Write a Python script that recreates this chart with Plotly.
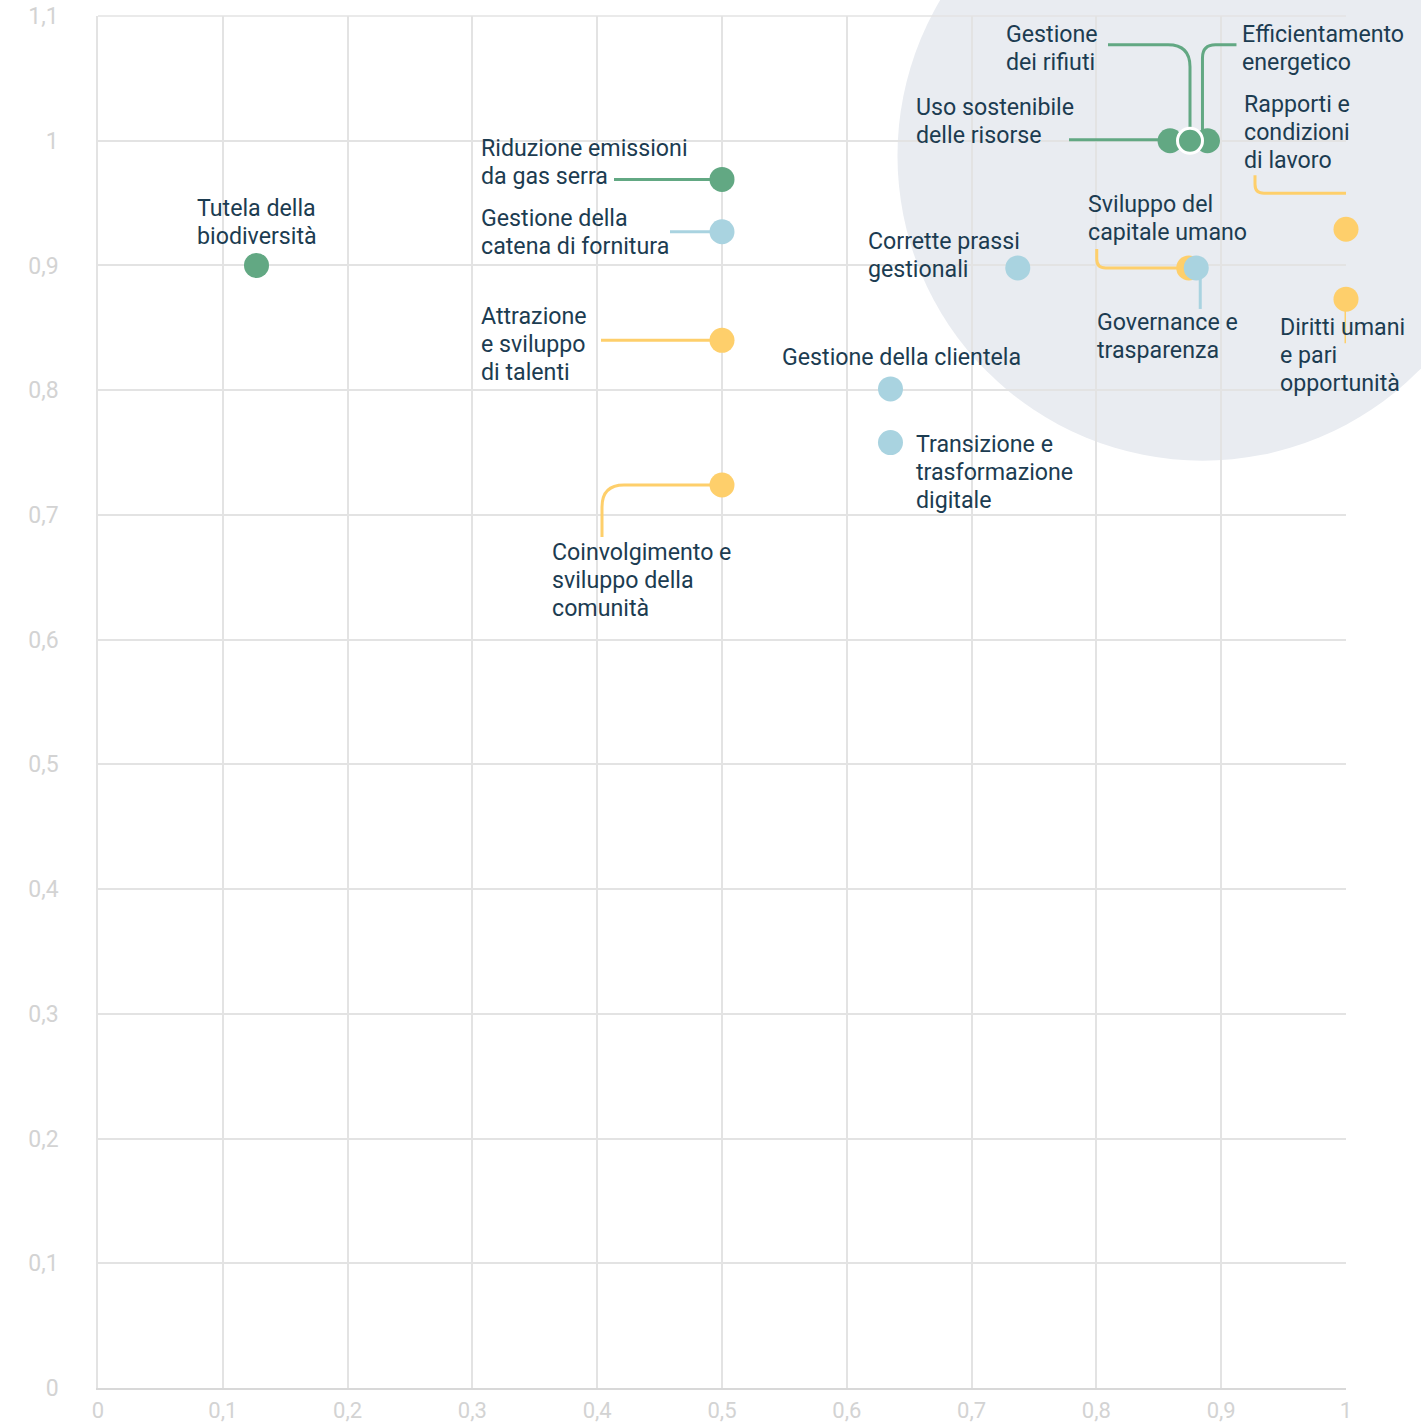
import plotly.graph_objects as go

# ---------------- data ----------------
topics = [
    "Tutela della biodiversità",
    "Riduzione emissioni da gas serra",
    "Gestione della catena di fornitura",
    "Attrazione e sviluppo di talenti",
    "Coinvolgimento e sviluppo della comunità",
    "Gestione della clientela",
    "Transizione e trasformazione digitale",
    "Corrette prassi gestionali",
    "Sviluppo del capitale umano",
    "Governance e trasparenza",
    "Rapporti e condizioni di lavoro",
    "Diritti umani e pari opportunità",
    "Uso sostenibile delle risorse",
    "Efficientamento energetico",
    "Gestione dei rifiuti",
]
x_values = [0.127, 0.5, 0.5, 0.5, 0.5, 0.635, 0.635, 0.737, 0.874, 0.880, 1.0, 1.0, 0.859, 0.889, 0.875]
y_values = [0.900, 0.969, 0.927, 0.840, 0.724, 0.801, 0.758, 0.898, 0.898, 0.898, 0.929, 0.873, 1.0, 1.0, 1.0]
groups = ["amb", "amb", "gov", "soc", "soc", "gov", "gov", "gov", "soc", "gov", "soc", "soc", "amb", "amb", "amb"]

label_lines = [
    ["Tutela della", "biodiversità"],
    ["Riduzione emissioni", "da gas serra"],
    ["Gestione della", "catena di fornitura"],
    ["Attrazione", "e sviluppo", "di talenti"],
    ["Coinvolgimento e", "sviluppo della", "comunità"],
    ["Gestione della clientela"],
    ["Transizione e", "trasformazione", "digitale"],
    ["Corrette prassi", "gestionali"],
    ["Sviluppo del", "capitale umano"],
    ["Governance e", "trasparenza"],
    ["Rapporti e", "condizioni", "di lavoro"],
    ["Diritti umani", "e pari", "opportunità"],
    ["Uso sostenibile", "delle risorse"],
    ["Efficientamento", "energetico"],
    ["Gestione", "dei rifiuti"],
]

x_tick_vals = [0, 0.1, 0.2, 0.3, 0.4, 0.5, 0.6, 0.7, 0.8, 0.9, 1]
x_tick_text = ["0", "0,1", "0,2", "0,3", "0,4", "0,5", "0,6", "0,7", "0,8", "0,9", "1"]
y_tick_vals = [0, 0.1, 0.2, 0.3, 0.4, 0.5, 0.6, 0.7, 0.8, 0.9, 1, 1.1]
y_tick_text = ["0", "0,1", "0,2", "0,3", "0,4", "0,5", "0,6", "0,7", "0,8", "0,9", "1", "1,1"]

# ---------------- styles / layout ----------------
W, H = 1421, 1426
M_L, M_R, M_T, M_B = 98, 75, 16, 38
X_RANGE = [0, 1]
Y_RANGE = [0, 1.1000001]
PW = W - M_L - M_R
PH = H - M_T - M_B
PX_X = PW / (X_RANGE[1] - X_RANGE[0])
PX_Y = PH / (Y_RANGE[1] - Y_RANGE[0])

colors = {"amb": "#62a883", "soc": "#fecf6b", "gov": "#a9d3e0"}
TEXT_COLOR = "#1c3c51"
GRID_COLOR = "#e3e3e3"
TICK_COLOR = "#d3d3d3"
FONT = "Roboto"
LABEL_SIZE = 23.2
LINE_STEP = 28

# label placement: pixel offsets of the text block (left edge / centre) from its dot
label_pos = {
    "Tutela della biodiversità": (0, 43, "center"),
    "Riduzione emissioni da gas serra": (-243, 17, "left"),
    "Gestione della catena di fornitura": (-243, 0, "left"),
    "Attrazione e sviluppo di talenti": (-243, -4, "left"),
    "Coinvolgimento e sviluppo della comunità": (-172, -95, "left"),
    "Gestione della clientela": (-110, 32, "left"),
    "Transizione e trasformazione digitale": (24, -29, "left"),
    "Corrette prassi gestionali": (-152, 13, "left"),
    "Sviluppo del capitale umano": (-103, 50, "left"),
    "Governance e trasparenza": (-101, -68, "left"),
    "Rapporti e condizioni di lavoro": (-104, 97, "left"),
    "Diritti umani e pari opportunità": (-68, -56, "left"),
    "Uso sostenibile delle risorse": (-256, 20, "left"),
    "Efficientamento energetico": (33, 93, "left"),
    "Gestione dei rifiuti": (-186, 93, "left"),
}

# leader lines: pixel waypoints relative to the dot (y down), corner radius
leaders = {
    "Riduzione emissioni da gas serra": ([(-108, 0), (0, 0)], 0),
    "Gestione della catena di fornitura": ([(-52, 0), (0, 0)], 0),
    "Attrazione e sviluppo di talenti": ([(-121, 0), (0, 0)], 0),
    "Coinvolgimento e sviluppo della comunità": ([(0, 0), (-120, 0), (-120, 52)], 22),
    "Uso sostenibile delle risorse": ([(-101, -1), (0, -1)], 0),
    "Gestione dei rifiuti": ([(-82, -96), (0, -96), (0, 0)], 22),
    "Efficientamento energetico": ([(29, -96), (-5, -96), (-5, 0)], 13),
    "Sviluppo del capitale umano": ([(-92, -19), (-92, 0), (0, 0)], 9),
    "Governance e trasparenza": ([(4, 0), (4, 41)], 0),
    "Rapporti e condizioni di lavoro": ([(-91, -54), (-91, -36), (1, -36)], 9),
    "Diritti umani e pari opportunità": ([(0, 0), (0, 44)], 0),
}

# highlight circle (centre in data units, radius in px)
CIRCLE_CENTER = (0.885, 0.988)
CIRCLE_R_PX = 305
CIRCLE_COLOR = "#e9ecf1"


def to_data(x, y, dx, dy):
    return x + dx / PX_X, y - dy / PX_Y


def leader_path(x, y, pts, r):
    P = [to_data(x, y, dx, dy) for dx, dy in pts]
    if r == 0 or len(pts) < 3:
        return "M " + " L ".join(f"{a},{b}" for a, b in P)
    out = [f"M {P[0][0]},{P[0][1]}"]
    for i in range(1, len(pts) - 1):
        (ax, ay), (bx, by), (cx, cy) = pts[i - 1], pts[i], pts[i + 1]

        def unit(px, py, qx, qy):
            d = ((qx - px) ** 2 + (qy - py) ** 2) ** 0.5
            return (qx - px) / d, (qy - py) / d

        u1 = unit(bx, by, ax, ay)
        u2 = unit(bx, by, cx, cy)
        s = to_data(x, y, bx + u1[0] * r, by + u1[1] * r)
        e = to_data(x, y, bx + u2[0] * r, by + u2[1] * r)
        out.append(f"L {s[0]},{s[1]}")
        out.append(f"Q {P[i][0]},{P[i][1]} {e[0]},{e[1]}")
    out.append(f"L {P[-1][0]},{P[-1][1]}")
    return " ".join(out)


fig = go.Figure()

fig.add_trace(go.Scatter(
    x=x_values, y=y_values, mode="markers",
    marker=dict(
        size=25,
        color=[colors[g] for g in groups],
        line=dict(
            color="white",
            width=[3 if t == "Gestione dei rifiuti" else 0 for t in topics],
        ),
        opacity=1,
    ),
    cliponaxis=False,
    hoverinfo="text", text=topics,
    showlegend=False,
))

shapes = []
# background circle in paper coordinates
cxp = (CIRCLE_CENTER[0] - X_RANGE[0]) / (X_RANGE[1] - X_RANGE[0])
cyp = (CIRCLE_CENTER[1] - Y_RANGE[0]) / (Y_RANGE[1] - Y_RANGE[0])
rxp = CIRCLE_R_PX / PW
ryp = CIRCLE_R_PX / PH
shapes.append(dict(type="circle", xref="paper", yref="paper",
                   x0=cxp - rxp, x1=cxp + rxp, y0=cyp - ryp, y1=cyp + ryp,
                   fillcolor=CIRCLE_COLOR, line=dict(width=0), layer="below"))
# top border of the plot frame
shapes.append(dict(type="line", xref="paper", yref="paper", x0=0, x1=1, y0=1, y1=1,
                   line=dict(color=GRID_COLOR, width=1.5), layer="between"))

for t, x, y, g in zip(topics, x_values, y_values, groups):
    if t in leaders:
        pts, r = leaders[t]
        shapes.append(dict(type="path", xref="x", yref="y",
                           path=leader_path(x, y, pts, r),
                           line=dict(color=colors[g], width=3),
                           layer="between"))

annotations = []
for t, lines, x, y in zip(topics, label_lines, x_values, y_values):
    xs, ys, xa = label_pos[t]
    n = len(lines)
    for i, line in enumerate(lines):
        annotations.append(dict(
            x=x, y=y, xref="x", yref="y", text=line, showarrow=False,
            xshift=xs, yshift=ys - (i - (n - 1) / 2) * LINE_STEP,
            xanchor=xa, yanchor="middle",
            align="center" if xa == "center" else "left",
            font=dict(family=FONT, size=LABEL_SIZE, color=TEXT_COLOR),
        ))

fig.update_layout(
    template="none",
    width=W, height=H,
    margin=dict(l=M_L, r=M_R, t=M_T, b=M_B, pad=0, autoexpand=False),
    paper_bgcolor="white", plot_bgcolor="white",
    shapes=shapes, annotations=annotations,
    showlegend=False,
    xaxis=dict(range=X_RANGE, tickmode="array", tickvals=x_tick_vals, ticktext=x_tick_text,
               showgrid=True, gridcolor=GRID_COLOR, gridwidth=1.5,
               showline=True, linecolor="#d8d8d8", linewidth=2, mirror=False,
               zeroline=False, ticks="", ticklabelstandoff=2, automargin=False,
               ticklabeloverflow="allow",
               tickfont=dict(family=FONT, size=22, color=TICK_COLOR), fixedrange=True),
    yaxis=dict(range=Y_RANGE, tickmode="array", tickvals=y_tick_vals, ticktext=y_tick_text,
               showgrid=True, gridcolor=GRID_COLOR, gridwidth=1.5,
               showline=True, linecolor=GRID_COLOR, linewidth=1.5, mirror=False,
               zeroline=False, ticks="", ticklabelstandoff=33, automargin=False,
               ticklabeloverflow="allow",
               tickfont=dict(family=FONT, size=23, color=TICK_COLOR), fixedrange=True),
)

fig.write_html("out.html", config={"displayModeBar": False},
               post_script="document.body.style.margin='0px';")
